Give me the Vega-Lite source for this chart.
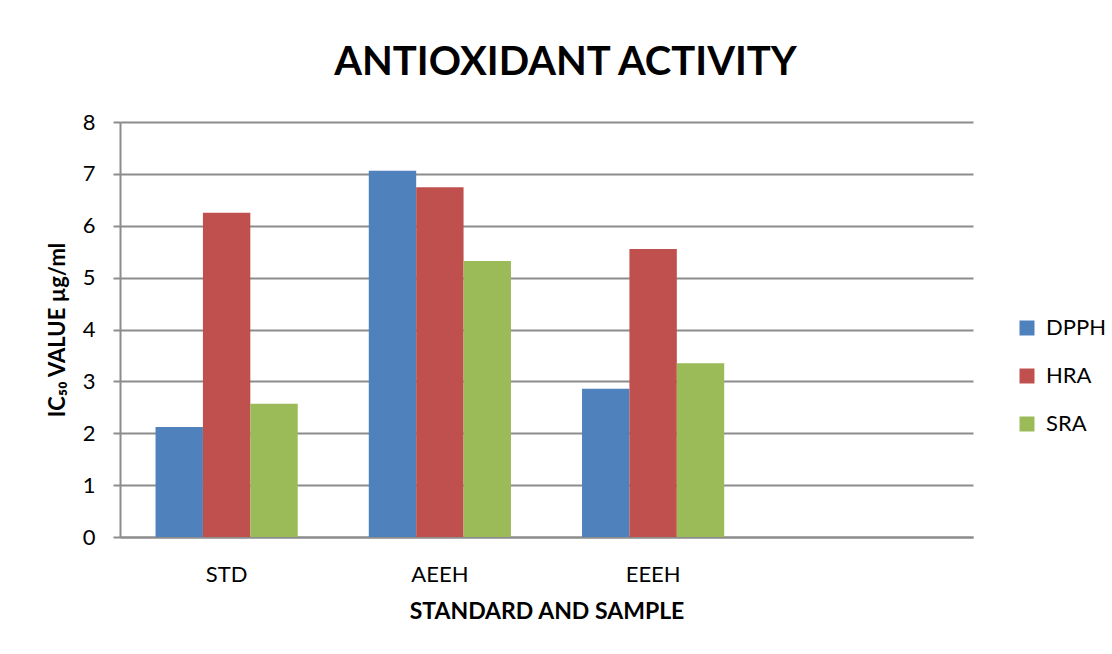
{
  "$schema": "https://vega.github.io/schema/vega-lite/v6.json",
  "width": 853,
  "height": 415,
  "autosize": {"type": "none"},
  "padding": {"left": 120, "top": 122, "right": 139, "bottom": 117},
  "background": "white",
  "title": {
    "text": "ANTIOXIDANT ACTIVITY",
    "font": "Lato",
    "fontSize": 40,
    "fontWeight": "bold",
    "color": "#000000",
    "anchor": "middle",
    "frame": "group",
    "baseline": "alphabetic",
    "offset": -4,
    "dx": 19
  },
  "data": {
    "values": [
      {"sample": "STD", "assay": "DPPH", "ic50": 2.12},
      {"sample": "STD", "assay": "HRA", "ic50": 6.25},
      {"sample": "STD", "assay": "SRA", "ic50": 2.57},
      {"sample": "AEEH", "assay": "DPPH", "ic50": 7.06},
      {"sample": "AEEH", "assay": "HRA", "ic50": 6.74},
      {"sample": "AEEH", "assay": "SRA", "ic50": 5.32},
      {"sample": "EEEH", "assay": "DPPH", "ic50": 2.86},
      {"sample": "EEEH", "assay": "HRA", "ic50": 5.55},
      {"sample": "EEEH", "assay": "SRA", "ic50": 3.35}
    ]
  },
  "mark": {"type": "bar"},
  "encoding": {
    "x": {
      "field": "sample",
      "type": "nominal",
      "sort": null,
      "scale": {"domain": ["STD", "AEEH", "EEEH", " "], "paddingInner": 0, "paddingOuter": 0},
      "axis": {
        "title": "STANDARD AND SAMPLE",
        "labelAngle": 0,
        "ticks": false,
        "labelPadding": 27,
        "titlePadding": 15,
        "labelFont": "Lato",
        "labelFontSize": 22,
        "labelColor": "#000000",
        "titleFont": "Lato",
        "titleFontSize": 23,
        "titleFontWeight": "bold",
        "titleColor": "#000000",
        "domainColor": "#8c8c8c",
        "domainWidth": 2
      }
    },
    "xOffset": {
      "field": "assay",
      "type": "nominal",
      "scale": {"domain": ["DPPH", "HRA", "SRA"], "paddingInner": 0, "paddingOuter": 0.75}
    },
    "y": {
      "field": "ic50",
      "type": "quantitative",
      "scale": {"domain": [0, 8], "nice": false},
      "axis": {
        "title": "IC₅₀ VALUE µg/ml",
        "values": [0, 1, 2, 3, 4, 5, 6, 7, 8],
        "format": "d",
        "tickSize": 7,
        "tickColor": "#8c8c8c",
        "tickWidth": 2,
        "labelPadding": 18,
        "titlePadding": 13,
        "labelFont": "Lato",
        "labelFontSize": 22,
        "labelColor": "#000000",
        "titleFont": "Lato",
        "titleFontSize": 22,
        "titleFontWeight": "bold",
        "titleColor": "#000000",
        "domainColor": "#8c8c8c",
        "domainWidth": 2,
        "grid": true,
        "gridColor": "#8c8c8c",
        "gridWidth": 2
      }
    },
    "color": {
      "field": "assay",
      "type": "nominal",
      "scale": {"domain": ["DPPH", "HRA", "SRA"], "range": ["#4f81bd", "#c0504d", "#9bbb59"]},
      "legend": {
        "title": null,
        "orient": "none",
        "legendX": 896,
        "legendY": 195,
        "symbolType": "square",
        "symbolSize": 225,
        "symbolStrokeWidth": 0,
        "labelFont": "Lato",
        "labelFontSize": 22,
        "labelColor": "#000000",
        "labelOffset": 8,
        "rowPadding": 26
      }
    }
  },
  "config": {
    "view": {"stroke": null}
  }
}
